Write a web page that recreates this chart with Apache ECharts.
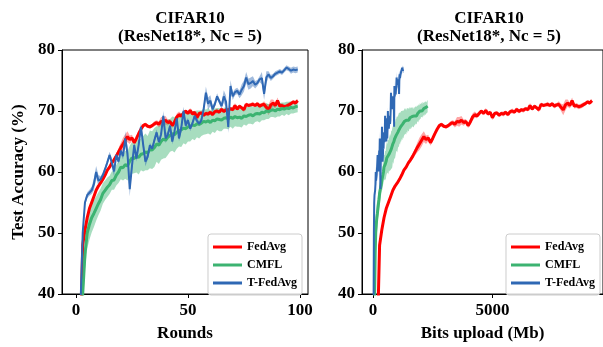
<!DOCTYPE html>
<html>
<head>
<meta charset="utf-8">
<script src="https://cdn.jsdelivr.net/npm/echarts@6/dist/echarts.min.js"></script>
<style>
  html, body { margin: 0; padding: 0; background: #fff; }
  #chart { width: 603px; height: 347px; }
</style>
</head>
<body>
<div id="chart"></div>
<script>
// rounds 1..99
const rounds = Array.from({ length: 99 }, (_, i) => i + 1);

const mbPerRound = { FedAvg: 92.5, CMFL: 23.1, "T-FedAvg": 13 };

const fedavg = [
  22, 33, 48, 50.5, 52.5, 54, 55, 56, 57, 57.7,
  58.2, 58.8, 59.5, 60.3, 60.8, 61.5, 62, 62.6, 63.3, 64,
  64.6, 65.2, 65.8, 65.3, 65.6, 64.8, 65.5, 66.3, 67, 67.6,
  67.8, 67.5, 67.4, 67.6, 67.9, 68.1, 67.8, 68.3, 68.2, 68.5,
  68.1, 68.3, 67.6, 68.2, 69, 69.4, 69.2, 69.6, 70, 69.6,
  70.1, 69.5, 69.8, 68.9, 69.6, 69.7, 69.3, 69.6, 69.5, 69.8,
  69.4, 69.9, 70, 69.8, 70.3, 69.9, 70.2, 70.1, 70.4, 70.2,
  70.9, 70.3, 70.8, 70.5, 70.2, 71.1, 70.9, 71, 71.1, 70.9,
  71.2, 70.8, 71, 71.1, 70.6, 70.2, 71, 71.3, 70.9, 71.7,
  70.8, 70.9, 70.7, 70.8, 71, 71.2, 71.5, 71.3, 71.7
];
const fedavgBand = [
  0.3, 0.3, 0.5, 0.5, 0.4, 0.4, 0.3, 0.3, 0.3, 0.3,
  0.3, 0.3, 0.3, 0.3, 0.3, 0.4, 0.4, 0.5, 0.6, 0.8,
  1.0, 1.0, 0.9, 0.7, 0.5, 0.5, 0.4, 0.4, 0.3, 0.3,
  0.3, 0.3, 0.3, 0.3, 0.4, 0.4, 0.5, 0.7, 0.8, 0.7,
  0.5, 0.4, 0.4, 0.5, 0.6, 0.5, 0.4, 0.4, 0.3, 0.3,
  0.4, 0.3, 0.3, 0.4, 0.3, 0.3, 0.3, 0.3, 0.4, 0.3,
  0.3, 0.3, 0.4, 0.3, 0.3, 0.3, 0.3, 0.4, 0.3, 0.3,
  0.4, 0.3, 0.3, 0.3, 0.4, 0.3, 0.3, 0.3, 0.4, 0.3,
  0.3, 0.4, 0.3, 0.5, 0.6, 0.9, 0.9, 0.6, 0.5, 0.5,
  0.4, 0.4, 0.4, 0.4, 0.4, 0.3, 0.3, 0.3, 0.3
];

const cmfl = [
  20, 30, 40, 46.5, 50, 51.4, 52.5, 53.2, 54, 54.8,
  55.5, 56.5, 57, 57.5, 57.9, 58.6, 58.7, 59.5, 60, 60.8,
  60.7, 61.2, 61, 61.8, 62.3, 62.2, 62.6, 62.4, 62.9, 63,
  63.3, 63.1, 63.7, 63.6, 64, 64.6, 64.4, 65, 65.4, 65.2,
  65.7, 66, 66.3, 66.1, 66.5, 66.8, 66.9, 67.2, 67.1, 67.4,
  67.5, 67.7, 67.6, 67.9, 67.8, 68, 68.3, 68.2, 68.4, 68.1,
  68.5, 68.4, 68.7, 68.6, 68.5, 68.8, 68.9, 68.7, 69, 68.8,
  69.1, 68.9, 69, 68.8, 69.2, 69.1, 69.3, 69.4, 69.2, 69.5,
  69.6, 69.5, 69.8, 69.7, 70, 69.9, 70.1, 70.2, 70, 70.3,
  70.2, 70.4, 70.3, 70.5, 70.4, 70.6, 70.5, 70.7, 70.8
];
const cmflBand = [
  1, 2, 2.5, 2.5, 2.6, 2.5, 2.4, 2.2, 2, 1.9,
  1.8, 1.7, 1.6, 1.6, 1.5, 1.5, 1.6, 1.7, 1.8, 2,
  2.1, 2.3, 2.4, 2.5, 2.6, 2.4, 2.7, 2.8, 2.6, 2.9,
  3, 2.8, 3.1, 3.1, 3.2, 2.9, 3.1, 3, 3.2, 2.9,
  2.9, 2.7, 2.8, 2.9, 2.7, 2.6, 2.8, 2.5, 2.6, 2.4,
  2.5, 2.3, 2.4, 2.2, 2.3, 2.1, 2.2, 2, 2.1, 2,
  1.9, 2, 1.8, 1.9, 1.8, 1.7, 1.8, 1.7, 1.6, 1.7,
  1.6, 1.5, 1.6, 1.5, 1.4, 1.5, 1.4, 1.5, 1.4, 1.3,
  1.3, 1.4, 1.3, 1.2, 1.3, 1.2, 1.1, 1.2, 1.1, 1.2,
  1.1, 1, 1.1, 1, 1.1, 1, 0.9, 1, 1
];

const tfedavg = [
  20, 38, 50, 55, 56.2, 56.6, 57, 58, 60, 58.6,
  58.8, 59.5, 60.5, 61.6, 62.8, 61.5, 60.1, 62.8, 61.7, 63.5,
  62.6, 65.5, 63, 57.2, 61, 64.4, 62.2, 64.5, 67.4, 64.5,
  61.7, 62.5, 64.4, 63.8, 65.2, 66.5, 64.9, 66.2, 69.2, 65.5,
  66.1, 67.6, 65, 66.7, 68.8, 65.5, 67.2, 70, 67.6, 68.5,
  67.1, 68, 69.2, 68.4, 67.9, 68.5, 70.3, 73, 71.2, 71.7,
  70.3, 71.1, 72.4, 71.6, 70.8, 72.4, 71.5, 67.4, 74.1, 72.4,
  73.1, 73.3, 72.7, 73.5, 74.1, 75.5, 74.4, 74.6, 74.9, 74.3,
  74.6, 75.2, 75.4, 72.8, 75.5, 76, 75.4, 75.7, 76.1, 76.3,
  76.5, 76.3, 76.7, 77.1, 76.9, 76.6, 76.8, 76.7, 76.8
];
const tfedavgBand = [
  0.4, 0.4, 0.5, 0.5, 0.5, 0.5, 0.6, 1.0, 1.0, 0.9,
  0.5, 0.4, 0.4, 0.5, 0.5, 0.8, 0.8, 0.5, 0.4, 0.5,
  0.6, 1.2, 1.2, 1.2, 0.8, 0.5, 0.5, 0.6, 0.8, 0.8,
  0.8, 0.5, 0.4, 0.4, 0.5, 0.5, 0.4, 0.5, 0.8, 0.8,
  0.6, 0.4, 0.5, 0.4, 0.5, 0.5, 0.7, 0.7, 0.7, 0.4,
  0.4, 0.4, 0.5, 0.4, 0.4, 0.5, 0.6, 1.0, 1.0, 0.9,
  0.6, 0.5, 0.5, 0.4, 0.5, 1.0, 1.0, 1.0, 1.0, 0.6,
  0.5, 0.5, 0.6, 0.9, 0.9, 0.9, 0.9, 0.9, 0.8, 0.6,
  0.5, 0.5, 1.0, 1.0, 1.0, 0.5, 0.5, 0.4, 0.4, 0.4,
  0.4, 0.4, 0.4, 0.4, 0.4, 0.5, 0.5, 0.5, 0.5
];

const methods = [
  { name: "FedAvg", values: fedavg, band: fedavgBand, color: "#ff0000", fill: "rgba(255,0,0,0.35)", width: 3 },
  { name: "CMFL", values: cmfl, band: cmflBand, color: "#3cb371", fill: "rgba(60,179,113,0.45)", width: 3 },
  { name: "T-FedAvg", values: tfedavg, band: tfedavgBand, color: "#2f68b4", fill: "rgba(47,104,180,0.45)", width: 2 }
];

const font = "Liberation Serif";
const chart = echarts.init(document.getElementById("chart"));

// x positions of one method on one panel
const xsFor = function(m, gridIdx) {
  return rounds.map(r => (gridIdx === 0 ? r : r * mbPerRound[m.name]));
};

const makeSeries = function(gridIdx) {
  let out = [];
  // shaded bands: one polygon each, placed through the axes with api.coord
  methods.forEach(function(m) {
    const xs = xsFor(m, gridIdx);
    out.push({
      name: m.name + "-band-" + gridIdx, type: "custom",
      xAxisIndex: gridIdx, yAxisIndex: gridIdx,
      silent: true, z: 1, clip: true,
      data: [[xs[0], m.values[0]]],
      renderItem: function(params, api) {
        const upper = xs.map((x, i) => api.coord([x, m.values[i] + m.band[i]]));
        const lower = xs.map((x, i) => api.coord([x, m.values[i] - m.band[i]])).reverse();
        const cs = params.coordSys;
        return {
          type: "polygon",
          shape: { points: upper.concat(lower) },
          style: { fill: m.fill },
          clipPath: { type: "rect", shape: { x: cs.x, y: cs.y, width: cs.width, height: cs.height } }
        };
      }
    });
  });
  methods.forEach(function(m) {
    const xs = xsFor(m, gridIdx);
    out.push({
      name: m.name, type: "line", xAxisIndex: gridIdx, yAxisIndex: gridIdx,
      symbol: "none", z: 3, color: m.color,
      lineStyle: { color: m.color, width: m.width },
      data: xs.map((x, i) => [x, m.values[i]])
    });
  });
  return out;
};

const titleText = "CIFAR10\n(ResNet18*, Nc = 5)";
const titleStyle = { fontFamily: font, fontWeight: "bold", fontSize: 17, lineHeight: 18, color: "#000" };
const legendBase = {
  orient: "vertical", top: 234, selectedMode: false,
  data: ["FedAvg", "CMFL", "T-FedAvg"],
  icon: "rect",
  itemWidth: 29, itemHeight: 3, itemGap: 4,
  padding: [6, 5, 5, 5],
  backgroundColor: "rgba(255,255,255,0.8)",
  borderColor: "#cccccc", borderWidth: 1, borderRadius: 3,
  textStyle: { fontFamily: font, fontWeight: "bold", fontSize: 12, lineHeight: 14, color: "#000" }
};

const yAxisBase = {
  type: "value", min: 40, max: 80, interval: 10,
  axisLine: { show: true, onZero: false, lineStyle: { color: "#000", width: 1 } },
  axisTick: { show: true, length: 4, lineStyle: { color: "#000" } },
  splitLine: { show: false },
  axisLabel: { fontFamily: font, fontWeight: "bold", fontSize: 17, color: "#000", margin: 7 }
};

const xAxisBase = {
  type: "value", nameLocation: "middle", nameGap: 31,
  nameTextStyle: { fontFamily: font, fontWeight: "bold", fontSize: 17, color: "#000" },
  axisLine: { show: true, onZero: false, lineStyle: { color: "#000", width: 1 } },
  splitLine: { show: false }
};

const xLabel = function(ticks) {
  return { customValues: ticks, formatter: v => String(v), fontFamily: font, fontWeight: "bold", fontSize: 17, color: "#000", margin: 8 };
};

chart.setOption({
  animation: false,
  title: [
    { text: titleText, left: 185, top: 5, textAlign: "center", textStyle: titleStyle },
    { text: titleText, left: 484, top: 5, textAlign: "center", textStyle: titleStyle }
  ],
  legend: [
    Object.assign({}, legendBase, { right: 301 }),
    Object.assign({}, legendBase, { right: 3 })
  ],
  grid: [
    { left: 62, top: 50, width: 246, height: 247, show: true, borderColor: "#000", borderWidth: 1 },
    { left: 362, top: 50, width: 243, height: 247, show: true, borderColor: "#000", borderWidth: 1 }
  ],
  xAxis: [
    Object.assign({}, xAxisBase, {
      gridIndex: 0, name: "Rounds", min: -6.25, max: 103.6,
      axisTick: { show: true, length: 4, customValues: [0, 50, 100], lineStyle: { color: "#000" } },
      axisLabel: xLabel([0, 50, 100])
    }),
    Object.assign({}, xAxisBase, {
      gridIndex: 1, name: "Bits upload (Mb)", min: -458, max: 9618,
      axisTick: { show: true, length: 4, customValues: [0, 5000], lineStyle: { color: "#000" } },
      axisLabel: xLabel([0, 5000])
    })
  ],
  yAxis: [
    Object.assign({}, yAxisBase, {
      gridIndex: 0, name: "Test Accuracy (%)", nameLocation: "middle", nameGap: 35,
      nameTextStyle: { fontFamily: font, fontWeight: "bold", fontSize: 17, color: "#000" }
    }),
    Object.assign({}, yAxisBase, { gridIndex: 1 })
  ],
  series: makeSeries(0).concat(makeSeries(1))
});
</script>
</body>
</html>
